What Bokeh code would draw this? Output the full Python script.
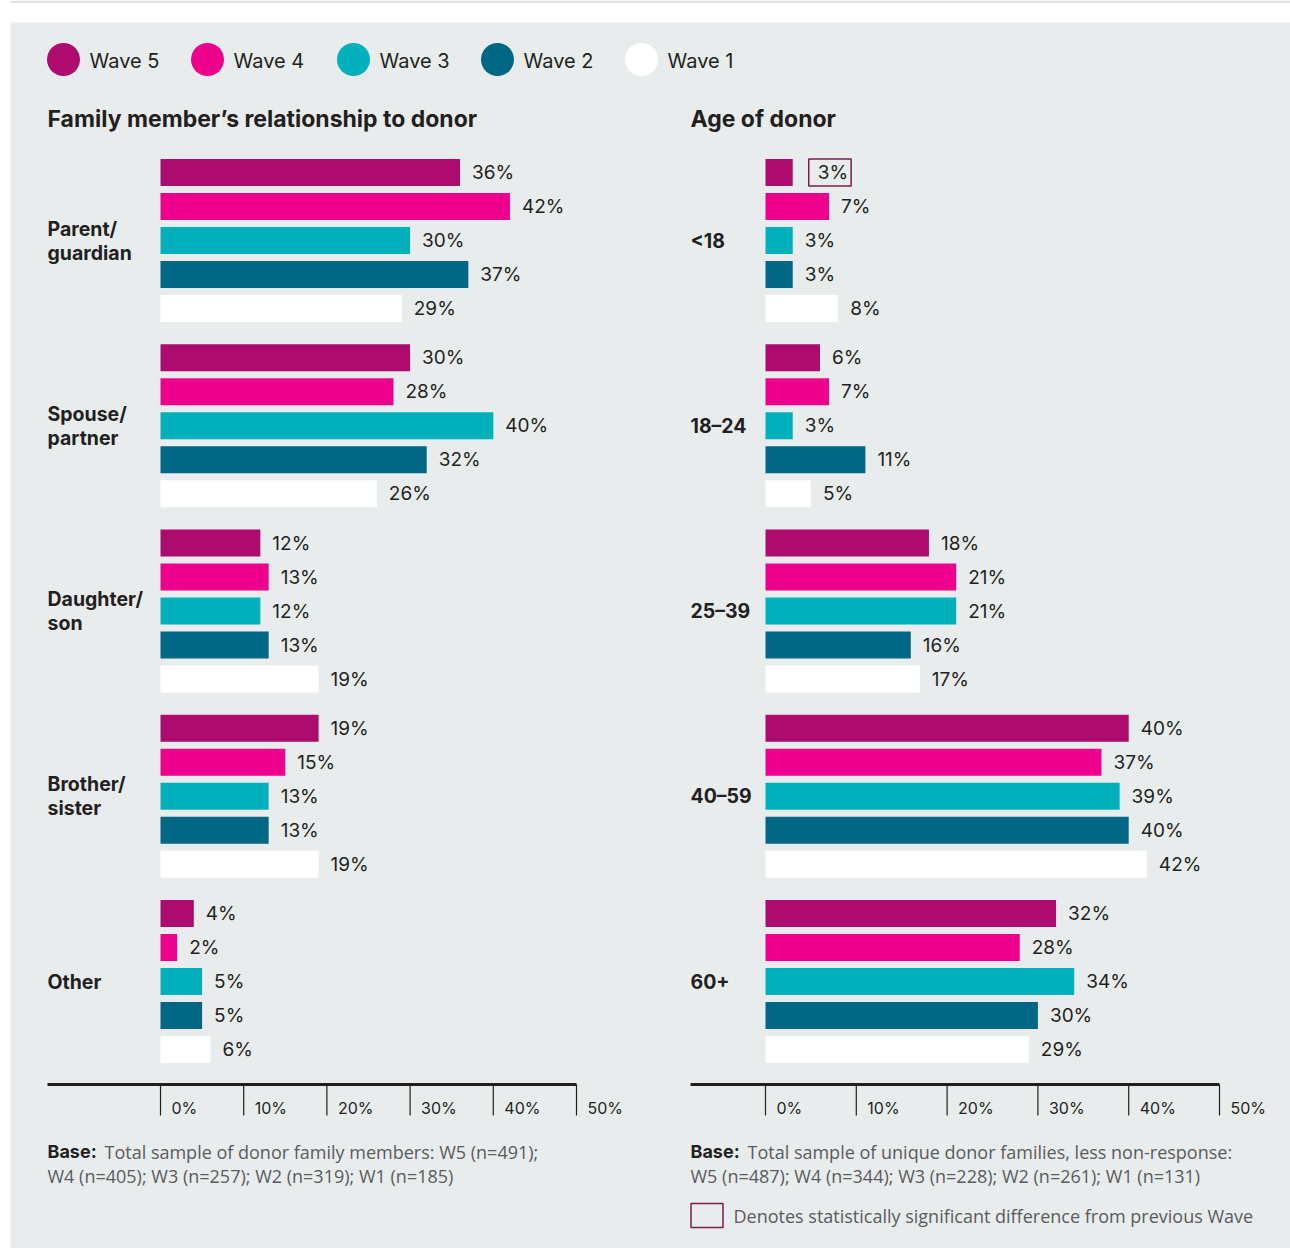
from bokeh.plotting import figure
from bokeh.models import Range1d, ColumnDataSource
from bokeh.core.properties import value
from bokeh.embed import file_html
from bokeh.resources import INLINE

# ---------------- data ----------------
waves = ["Wave 5", "Wave 4", "Wave 3", "Wave 2", "Wave 1"]
wave_colors = ["#ad0b6e", "#ec008c", "#00b0bb", "#006784", "#ffffff"]

rel_title = "Family member’s relationship to donor"
rel_cats = ["Parent/\nguardian", "Spouse/\npartner", "Daughter/\nson", "Brother/\nsister", "Other"]
rel_w5 = [36, 30, 12, 19, 4]
rel_w4 = [42, 28, 13, 15, 2]
rel_w3 = [30, 40, 12, 13, 5]
rel_w2 = [37, 32, 13, 13, 5]
rel_w1 = [29, 26, 19, 19, 6]
rel_sig_w5 = [False, False, False, False, False]

age_title = "Age of donor"
age_cats = ["<18", "18–24", "25–39", "40–59", "60+"]
age_w5 = [3, 6, 18, 40, 32]
age_w4 = [7, 7, 21, 37, 28]
age_w3 = [3, 3, 21, 39, 34]
age_w2 = [3, 11, 16, 40, 30]
age_w1 = [8, 5, 17, 42, 29]
age_sig_w5 = [True, False, False, False, False]

tick_values = [0, 10, 20, 30, 40, 50]
tick_labels = ["0%", "10%", "20%", "30%", "40%", "50%"]

rel_base_bold = "Base:"
rel_base_1 = "Total sample of donor family members: W5 (n=491);"
rel_base_2 = "W4 (n=405); W3 (n=257); W2 (n=319); W1 (n=185)"
age_base_bold = "Base:"
age_base_1 = "Total sample of unique donor families, less non-response:"
age_base_2 = "W5 (n=487); W4 (n=344); W3 (n=228); W2 (n=261); W1 (n=131)"
sig_note = "Denotes statistically significant difference from previous Wave"

# ---------------- layout constants ----------------
W, H = 1290, 1248
BG = "#e9eced"
DARK = "#231f20"
GREY = "#5a5b5d"
FONT = "Inter"
FONT2 = "Open Sans"

p = figure(width=W, height=H, output_backend="svg", toolbar_location=None,
           x_range=Range1d(0, W), y_range=Range1d(H, 0),
           x_axis_location=None, y_axis_location=None, min_border=0)
p.outline_line_color = None
p.background_fill_color = "white"
p.border_fill_color = "white"
p.grid.visible = False

# page background
p.quad(left=[10], right=[W], top=[22], bottom=[H], fill_color=BG, line_color=None)
p.quad(left=[10], right=[W], top=[0], bottom=[2.5], fill_color="#dde1e2", line_color=None)

# legend
leg_x = [63, 207, 353, 497, 641]
p.scatter(x=leg_x, y=[59] * 5, size=33, marker="circle", fill_color=wave_colors, line_color=None)
p.text(x=[x + 26 for x in leg_x], y=[60] * 5, text=waves, text_font=value(FONT),
       text_font_size="20px", text_color=DARK, text_baseline="middle")

FIRST_Y = 172
GROUP_PITCH = 185.25
BAR_PITCH = 34
BAR_H = 27


def panel(name, x_left, x0, x50, title, cats, series, sig, base_bold, base1, base2, base_x2):
    scale = (x50 - x0) / 50.0
    p.extra_x_ranges[name] = Range1d(-x0 / scale, (W - x0) / scale)

    p.text(x=[x_left], y=[118], text=[title], text_font=value(FONT), text_font_style="bold",
           text_font_size="23px", text_color=DARK, text_baseline="middle")

    ys, vals, cols, labs, sigs = [], [], [], [], []
    for g in range(len(cats)):
        for w, s in enumerate(series):
            ys.append(FIRST_Y + g * GROUP_PITCH + w * BAR_PITCH)
            vals.append(s[g])
            cols.append(wave_colors[w])
            labs.append(f"{s[g]}%")
            sigs.append(w == 0 and sig[g])
    src = ColumnDataSource(dict(y=ys, v=vals, c=cols, t=labs))
    p.hbar(y="y", left=0, right="v", height=BAR_H, fill_color="c", line_color=None,
           source=src, x_range_name=name)

    norm = ColumnDataSource(dict(y=[y for y, s in zip(ys, sigs) if not s],
                                 v=[v for v, s in zip(vals, sigs) if not s],
                                 t=[t for t, s in zip(labs, sigs) if not s]))
    p.text(x="v", y="y", text="t", x_offset=12, source=norm, x_range_name=name,
           text_font=value(FONT), text_font_size="19px", text_color=DARK, text_baseline="middle")
    sg = ColumnDataSource(dict(y=[y for y, s in zip(ys, sigs) if s],
                               v=[v for v, s in zip(vals, sigs) if s],
                               t=[t for t, s in zip(labs, sigs) if s]))
    p.text(x="v", y="y", text="t", x_offset=16, source=sg, x_range_name=name,
           text_font=value(FONT), text_font_size="19px", text_color=DARK, text_baseline="middle",
           border_line_color="#7b1b4f", border_line_width=1.5,
           padding=dict(left=9, right=3, top=2, bottom=2))

    cy = [FIRST_Y + g * GROUP_PITCH + 2 * BAR_PITCH for g in range(len(cats))]
    p.text(x=[x_left] * len(cats), y=cy, text=cats, text_font=value(FONT), text_font_style="bold",
           text_font_size="19.5px", text_color=DARK, text_baseline="middle", text_line_height=1.0)

    # axis
    AX_Y = 1084
    p.segment(x0=[-(x0 - x_left) / scale], x1=[tick_values[-1]], y0=[AX_Y], y1=[AX_Y],
              line_color=DARK, line_width=3, x_range_name=name)
    p.segment(x0=tick_values, x1=tick_values, y0=[AX_Y] * 6, y1=[AX_Y + 31] * 6,
              line_color=DARK, line_width=1.2, x_range_name=name)
    p.text(x=tick_values, y=[AX_Y + 23] * 6, text=tick_labels, x_offset=11, x_range_name=name,
           text_font=value(FONT), text_font_size="16px", text_color=DARK, text_baseline="middle")

    # base notes
    p.text(x=[x_left], y=[1151], text=[base_bold], text_font=value(FONT), text_font_style="bold",
           text_font_size="18px", text_color=DARK, text_baseline="middle")
    p.text(x=[base_x2], y=[1151], text=[base1], text_font=value(FONT2),
           text_font_size="18px", text_color=GREY, text_baseline="middle")
    p.text(x=[x_left], y=[1175], text=[base2], text_font=value(FONT2),
           text_font_size="18px", text_color=GREY, text_baseline="middle")


panel("L", 47, 160, 576, rel_title, rel_cats, [rel_w5, rel_w4, rel_w3, rel_w2, rel_w1],
      rel_sig_w5, rel_base_bold, rel_base_1, rel_base_2, 104)
panel("R", 690, 765, 1219, age_title, age_cats, [age_w5, age_w4, age_w3, age_w2, age_w1],
      age_sig_w5, age_base_bold, age_base_1, age_base_2, 747)

# significance key
p.quad(left=[690.5], right=[722.5], top=[1203], bottom=[1227], fill_color=None,
       line_color="#7b1b4f", line_width=1.5)
p.text(x=[733], y=[1215], text=[sig_note], text_font=value(FONT2), text_font_size="18px",
       text_color=GREY, text_baseline="middle")

open("out.html", "w").write(file_html(p, INLINE))
